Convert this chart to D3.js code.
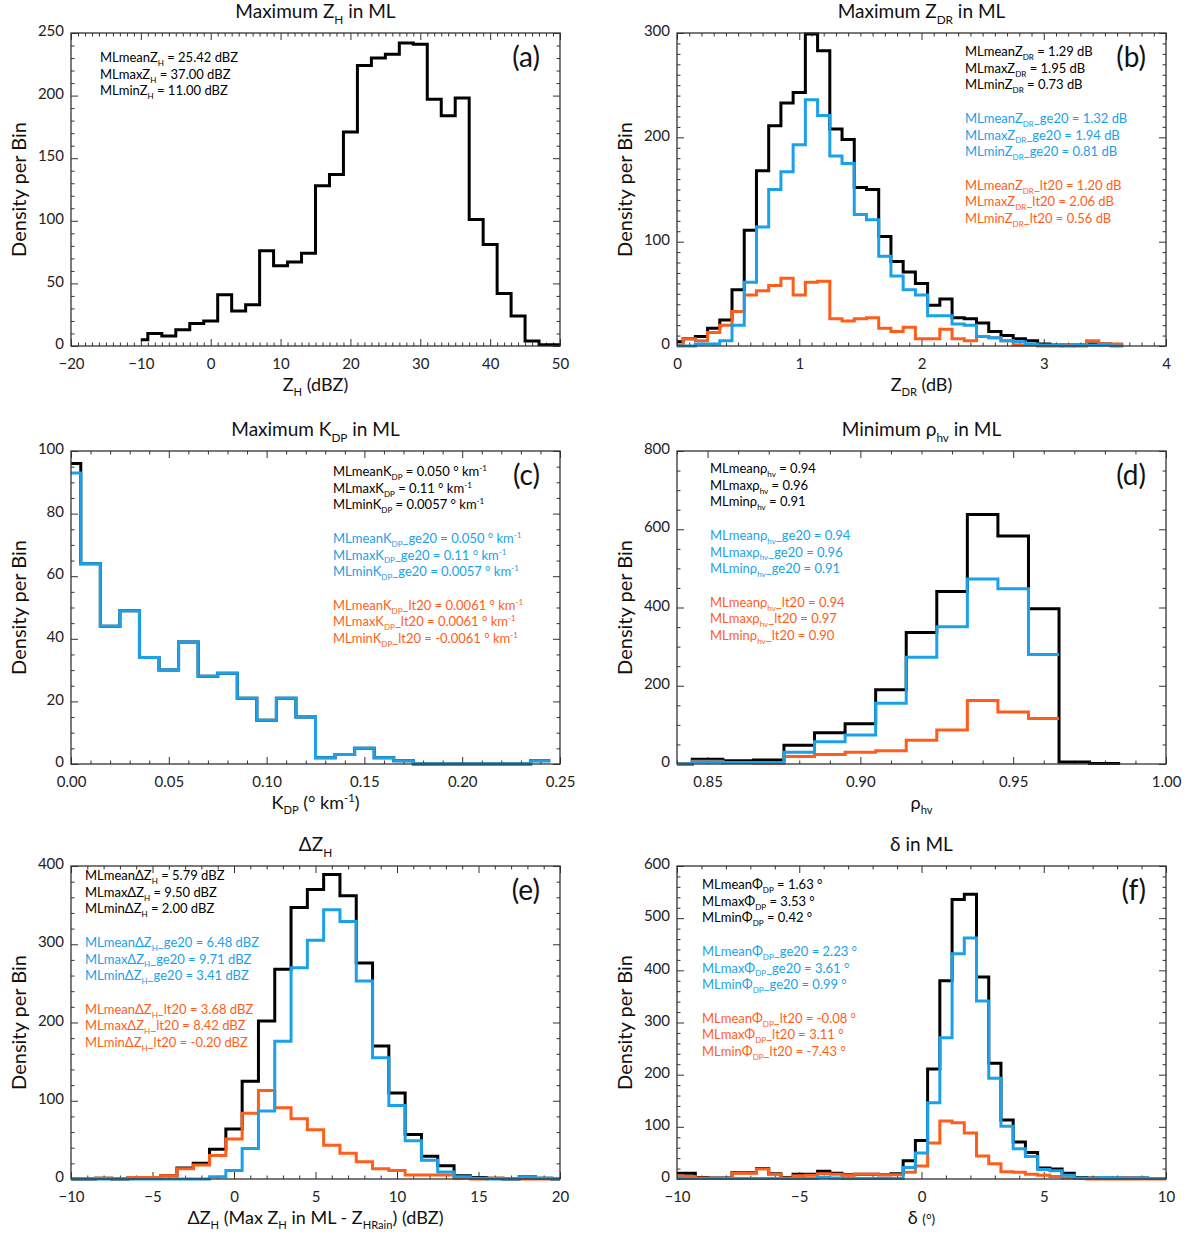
<!DOCTYPE html>
<html>
<head>
<meta charset="utf-8">
<script src="https://cdn.jsdelivr.net/npm/d3@7"></script>
<style>
  body { margin: 0; background: #fff; }
  svg { display: block; }
  text { font-family: Lato, "Open Sans", sans-serif; white-space: pre; }
</style>
</head>
<body>
<script>
const BLACK = "#000", BLUE = "#1ba1ea", ORANGE = "#ff5e1a";

// (a) maximum ZH, bins of 2 dBZ starting at -10
const zhStart = -10, zhWidth = 2;
const zhAll = [5, 10, 8, 13, 18, 20, 41, 28, 33, 76, 64, 67, 74, 128, 137, 171,
               224, 230, 233, 242, 241, 197, 184, 198, 101, 81, 42, 24, 4, 1, 1];
const zhNotes = ["MLmeanZ_{H} = 25.42 dBZ", "MLmaxZ_{H} = 37.00 dBZ", "MLminZ_{H} = 11.00 dBZ"];

// (b) maximum ZDR, bins of 0.1 dB starting at 0
const zdrStart = 0, zdrWidth = 0.1;
const zdrAll = [4, 7, 9, 17, 25, 54, 111, 168, 211, 233, 243, 299, 283, 208, 198, 152, 150, 105,
                81, 71, 60, 39, 45, 27, 26, 22, 14, 10, 7, 5, 2, 1, 1, 1, 2, 2, 1];
const zdrGe20 = [0, 0, 2, 2, 5, 20, 61, 114, 150, 167, 193, 236, 221, 182, 175, 126, 121, 86,
                 67, 54, 49, 29, 29, 21, 20, 9, 8, 5, 4, 2, 1, 1, 0, 1, 1, 1, 0];
const zdrLt20 = [1, 7, 5, 13, 20, 33, 49, 53, 58, 65, 49, 61, 62, 26, 24, 26, 27, 17,
                 14, 18, 7, 7, 16, 7, 5, 9, 8, 5, 1, 1, 0, 0, 1, 0, 5, 2, 2];
const zdrNotes = ["MLmeanZ_{DR} = 1.29 dB", "MLmaxZ_{DR} = 1.95 dB", "MLminZ_{DR} = 0.73 dB",
                  "MLmeanZ_{DR}_ge20 = 1.32 dB", "MLmaxZ_{DR}_ge20 = 1.94 dB", "MLminZ_{DR}_ge20 = 0.81 dB",
                  "MLmeanZ_{DR}_lt20 = 1.20 dB", "MLmaxZ_{DR}_lt20 = 2.06 dB", "MLminZ_{DR}_lt20 = 0.56 dB"];

// (c) maximum KDP, bins of 0.01 deg/km starting at 0 (the lt20 subset shows no counts)
const kdpStart = 0, kdpWidth = 0.01;
const kdpAll = [96, 64, 44, 49, 34, 30, 39, 28, 29, 21, 14, 21, 15, 2, 3, 5, 2, 1, 0, 0, 0, 0, 0, 0, 1];
const kdpGe20 = [93, 64, 44, 49, 34, 30, 39, 28, 29, 21, 14, 21, 15, 2, 3, 5, 2, 1, 0, 0, 0, 0, 0, 0, 1];
const kdpNotes = ["MLmeanK_{DP} = 0.050 ° km^{-1}", "MLmaxK_{DP} = 0.11 ° km^{-1}", "MLminK_{DP} = 0.0057 ° km^{-1}",
                  "MLmeanK_{DP}_ge20 = 0.050 ° km^{-1}", "MLmaxK_{DP}_ge20 = 0.11 ° km^{-1}", "MLminK_{DP}_ge20 = 0.0057 ° km^{-1}",
                  "MLmeanK_{DP}_lt20 = 0.0061 ° km^{-1}", "MLmaxK_{DP}_lt20 = 0.0061 ° km^{-1}", "MLminK_{DP}_lt20 = -0.0061 ° km^{-1}"];

// (d) minimum rhohv, bins of 0.01 starting at 0.84
const rhoStart = 0.84, rhoWidth = 0.01;
const rhoAll = [0, 12, 8, 10, 48, 80, 103, 190, 336, 441, 638, 583, 397, 5, 1];
const rhoGe20 = [0, 5, 4, 4, 30, 57, 74, 155, 273, 351, 473, 448, 280];
const rhoLt20 = [0, 7, 3, 2, 19, 24, 30, 34, 61, 87, 162, 133, 116];
const rhoNotes = ["MLmeanρ_{hv} = 0.94", "MLmaxρ_{hv} = 0.96", "MLminρ_{hv} = 0.91",
                  "MLmeanρ_{hv}_ge20 = 0.94", "MLmaxρ_{hv}_ge20 = 0.96", "MLminρ_{hv}_ge20 = 0.91",
                  "MLmeanρ_{hv}_lt20 = 0.94", "MLmaxρ_{hv}_lt20 = 0.97", "MLminρ_{hv}_lt20 = 0.90"];

// (e) delta ZH, bins of 1 dBZ starting at -10
const dzStart = -10, dzWidth = 1;
const dzAll = [0, 0, 1, 0, 2, 2, 4, 14, 20, 38, 64, 125, 202, 268, 347, 370, 389, 362, 276, 170,
               110, 57, 29, 17, 4, 2, 1, 0, 3, 1, 0];
const dzGe20 = [0, 0, 0, 0, 0, 0, 0, 0, 0, 3, 11, 39, 87, 176, 270, 305, 344, 329, 253, 155,
                94, 49, 24, 9, 3, 1, 0, 0, 3, 1, 0];
const dzLt20 = [0, 0, 1, 0, 2, 2, 4, 13, 18, 30, 51, 84, 113, 91, 77, 63, 43, 33, 22, 13,
                11, 5, 5, 5, 1, 0, 1, 0, 0, 0, 0];
const dzNotes = ["MLmeanΔZ_{H} = 5.79 dBZ", "MLmaxΔZ_{H} = 9.50 dBZ", "MLminΔZ_{H} = 2.00 dBZ",
                 "MLmeanΔZ_{H}_ge20 = 6.48 dBZ", "MLmaxΔZ_{H}_ge20 = 9.71 dBZ", "MLminΔZ_{H}_ge20 = 3.41 dBZ",
                 "MLmeanΔZ_{H}_lt20 = 3.68 dBZ", "MLmaxΔZ_{H}_lt20 = 8.42 dBZ", "MLminΔZ_{H}_lt20 = -0.20 dBZ"];

// (f) delta, bins of 0.5 deg starting at -10
const delStart = -10, delWidth = 0.5;
const delAll = [11, 11, 3, 2, 2, 12, 12, 20, 10, 3, 9, 9, 15, 11, 8, 9, 9, 8, 10, 35, 74,
                211, 380, 536, 546, 387, 222, 113, 71, 51, 21, 19, 11, 3, 2, 3, 2, 2, 2, 1, 1];
const delGe20 = [2, 1, 1, 1, 1, 1, 1, 1, 1, 1, 1, 1, 3, 2, 1, 1, 1, 1, 1, 22, 50,
                 146, 271, 432, 462, 341, 193, 101, 58, 43, 18, 16, 7, 2, 1, 3, 2, 1, 2, 1, 1];
const delLt20 = [6, 5, 2, 1, 1, 11, 11, 19, 9, 2, 6, 7, 10, 9, 7, 9, 9, 8, 8, 13, 25,
                 69, 111, 108, 88, 44, 29, 14, 13, 9, 7, 5, 2, 1, 0, 0, 0, 0, 0, 0, 0];
const delNotes = ["MLmeanΦ_{DP} = 1.63 °", "MLmaxΦ_{DP} = 3.53 °", "MLminΦ_{DP} = 0.42 °",
                  "MLmeanΦ_{DP}_ge20 = 2.23 °", "MLmaxΦ_{DP}_ge20 = 3.61 °", "MLminΦ_{DP}_ge20 = 0.99 °",
                  "MLmeanΦ_{DP}_lt20 = -0.08 °", "MLmaxΦ_{DP}_lt20 = 3.11 °", "MLminΦ_{DP}_lt20 = -7.43 °"];

const noteColors = [BLACK, BLACK, BLACK, BLUE, BLUE, BLUE, ORANGE, ORANGE, ORANGE];
const noteRows = [0, 1, 2, 4, 5, 6, 8, 9, 10];

const intFmt = d => d < 0 ? "\u2212" + Math.abs(d) : String(d);
const fix2 = d => d.toFixed(2);

const panels = [
  { left: 71, top: 33, title: "Maximum Z_{H} in ML", xTitle: "Z_{H} (dBZ)", letter: "(a)",
    xDomain: [-20, 50], xMajor: 10, xMinor: 1, xFmt: intFmt, yDomain: [0, 250], yMajor: 50, yMinor: 10,
    start: zhStart, width: zhWidth, series: [[zhAll, BLACK]], notes: zhNotes, noteX: 100, noteY: 58 },
  { left: 677, top: 33, title: "Maximum Z_{DR} in ML", xTitle: "Z_{DR} (dB)", letter: "(b)",
    xDomain: [0, 4], xMajor: 1, xMinor: 0.1, xFmt: intFmt, yDomain: [0, 300], yMajor: 100, yMinor: 10,
    start: zdrStart, width: zdrWidth, series: [[zdrAll, BLACK], [zdrLt20, ORANGE], [zdrGe20, BLUE]],
    notes: zdrNotes, noteX: 965, noteY: 52 },
  { left: 71, top: 451, title: "Maximum K_{DP} in ML", xTitle: "K_{DP} (° km^{-1})", letter: "(c)",
    xDomain: [0, 0.25], xMajor: 0.05, xMinor: 0.01, xFmt: fix2, yDomain: [0, 100], yMajor: 20, yMinor: 5,
    start: kdpStart, width: kdpWidth, series: [[kdpAll, BLACK], [kdpGe20, BLUE]],
    notes: kdpNotes, noteX: 333, noteY: 472 },
  { left: 677, top: 451, title: "Minimum ρ_{hv} in ML", xTitle: "ρ_{hv}", letter: "(d)",
    xDomain: [0.84, 1.0], xMajor: 0.05, xMinor: 0.01, xFmt: fix2, yDomain: [0, 800], yMajor: 200, yMinor: 50,
    start: rhoStart, width: rhoWidth, series: [[rhoAll, BLACK], [rhoLt20, ORANGE], [rhoGe20, BLUE]],
    notes: rhoNotes, noteX: 710, noteY: 469 },
  { left: 71, top: 866, title: "ΔZ_{H}", xTitle: "ΔZ_{H} (Max Z_{H} in ML - Z_{HRain}) (dBZ)", letter: "(e)",
    xDomain: [-10, 20], xMajor: 5, xMinor: 1, xFmt: intFmt, yDomain: [0, 400], yMajor: 100, yMinor: 20,
    start: dzStart, width: dzWidth, series: [[dzAll, BLACK], [dzLt20, ORANGE], [dzGe20, BLUE]],
    notes: dzNotes, noteX: 85, noteY: 876 },
  { left: 677, top: 866, title: "δ in ML", xTitle: "δ ^{(°)}", letter: "(f)",
    xDomain: [-10, 10], xMajor: 5, xMinor: 1, xFmt: intFmt, yDomain: [0, 600], yMajor: 100, yMinor: 20,
    start: delStart, width: delWidth, series: [[delAll, BLACK], [delLt20, ORANGE], [delGe20, BLUE]],
    notes: delNotes, noteX: 702, noteY: 885 }
];

const PW = 489, PH = 313;

const svg = d3.select("body").append("svg").attr("width", 1188).attr("height", 1240);

// write "a_{sub}" and "a^{sup}" as tspans
function rich(sel, str, size) {
  const parts = str.split(/(_\{[^}]*\}|\^\{[^}]*\})/).filter(s => s.length);
  let shift = 0;
  parts.forEach(p => {
    let t = p, s = 0, fs = null;
    if (p.startsWith("_{")) { t = p.slice(2, -1); s = 0.3 * size; fs = 0.62 * size; }
    else if (p.startsWith("^{")) { t = p.slice(2, -1); s = -0.38 * size; fs = 0.62 * size; }
    if (p === "^{(°)}") { s = 0; fs = 0.75 * size; }
    const ts = sel.append("tspan").text(t).attr("dy", s - shift);
    if (fs) ts.attr("font-size", fs);
    shift = s;
  });
}

function ticksBy(domain, step) {
  const lo = Math.ceil(domain[0] / step - 1e-6), hi = Math.floor(domain[1] / step + 1e-6);
  return d3.range(lo, hi + 1).map(i => +(i * step).toFixed(6));
}

// histogram steps: first bin starts at its centre, the others span the full bin
function stepPoints(start, w, vals) {
  const pts = [];
  vals.forEach((v, i) => {
    const c = start + i * w;
    pts.push([i === 0 ? c : c - w / 2, v], [c + w / 2, v]);
  });
  return pts;
}

panels.forEach((p, k) => {
  const x = d3.scaleLinear().domain(p.xDomain).range([p.left, p.left + PW]);
  const y = d3.scaleLinear().domain(p.yDomain).range([p.top + PH, p.top]);

  const xMaj = ticksBy(p.xDomain, p.xMajor);
  const xMin = ticksBy(p.xDomain, p.xMinor).filter(v => !xMaj.some(m => Math.abs(m - v) < 1e-6));
  const yMaj = ticksBy(p.yDomain, p.yMajor);
  const yMin = ticksBy(p.yDomain, p.yMinor).filter(v => !yMaj.some(m => Math.abs(m - v) < 1e-6));

  const style = g => {
    g.select(".domain").remove();
    g.selectAll(".tick line").attr("stroke", "#333").attr("stroke-width", 1);
    g.selectAll(".tick text").attr("fill", "#222");
    g.attr("font-family", "Lato, 'Open Sans', sans-serif").attr("font-size", 15);
  };

  const g = svg.append("g");

  svg.append("clipPath").attr("id", "clip" + k).append("rect")
    .attr("x", p.left).attr("y", p.top - 4).attr("width", PW).attr("height", PH + 8);

  // ticks point inwards on all four sides
  g.append("g").attr("transform", `translate(0,${p.top + PH})`)
    .call(d3.axisBottom(x).tickValues(xMaj).tickSize(-7).tickPadding(12).tickFormat(p.xFmt)).call(style);
  g.append("g").attr("transform", `translate(0,${p.top + PH})`)
    .call(d3.axisBottom(x).tickValues(xMin).tickSize(-3.5).tickFormat("")).call(style);
  g.append("g").attr("transform", `translate(0,${p.top})`)
    .call(d3.axisTop(x).tickValues(xMaj).tickSize(-7).tickFormat("")).call(style);
  g.append("g").attr("transform", `translate(0,${p.top})`)
    .call(d3.axisTop(x).tickValues(xMin).tickSize(-3.5).tickFormat("")).call(style);
  g.append("g").attr("transform", `translate(${p.left},0)`)
    .call(d3.axisLeft(y).tickValues(yMaj).tickSize(-7).tickPadding(7).tickFormat(intFmt)).call(style)
    .selectAll(".tick text").attr("dy", "0.18em");
  g.append("g").attr("transform", `translate(${p.left},0)`)
    .call(d3.axisLeft(y).tickValues(yMin).tickSize(-3.5).tickFormat("")).call(style);
  g.append("g").attr("transform", `translate(${p.left + PW},0)`)
    .call(d3.axisRight(y).tickValues(yMaj).tickSize(-7).tickFormat("")).call(style);
  g.append("g").attr("transform", `translate(${p.left + PW},0)`)
    .call(d3.axisRight(y).tickValues(yMin).tickSize(-3.5).tickFormat("")).call(style);

  const line = d3.line().x(d => x(d[0])).y(d => y(d[1]));
  p.series.forEach(([vals, color]) => {
    g.append("path")
      .attr("d", line(stepPoints(p.start, p.width, vals)))
      .attr("clip-path", `url(#clip${k})`)
      .attr("fill", "none")
      .attr("stroke", color)
      .attr("stroke-width", 3)
      .attr("stroke-linejoin", "miter");
  });

  g.append("rect")
    .attr("x", p.left).attr("y", p.top).attr("width", PW).attr("height", PH)
    .attr("fill", "none").attr("stroke", "#333").attr("stroke-width", 1.3);

  // titles
  const cx = p.left + PW / 2;
  rich(g.append("text").attr("x", cx).attr("y", p.top - 15).attr("text-anchor", "middle")
    .attr("font-size", 19).attr("fill", "#111"), p.title, 19);
  rich(g.append("text").attr("x", cx).attr("y", p.top + PH + 45).attr("text-anchor", "middle")
    .attr("font-size", 18).attr("fill", "#111"), p.xTitle, 18);
  g.append("text")
    .attr("transform", `translate(${p.left - 45},${p.top + PH / 2}) rotate(-90)`)
    .attr("text-anchor", "middle").attr("font-size", 20).attr("fill", "#111")
    .text("Density per Bin");
  g.append("text").attr("x", p.left + PW - 20).attr("y", p.top + 34)
    .attr("text-anchor", "end").attr("font-size", 28).attr("fill", "#111").text(p.letter);

  // statistics
  p.notes.forEach((str, i) => {
    rich(g.append("text").attr("x", p.noteX).attr("y", p.noteY + 4 + noteRows[i] * 16.7)
      .attr("font-size", 13).attr("fill", noteColors[i]), str, 13);
  });
});
</script>
</body>
</html>
